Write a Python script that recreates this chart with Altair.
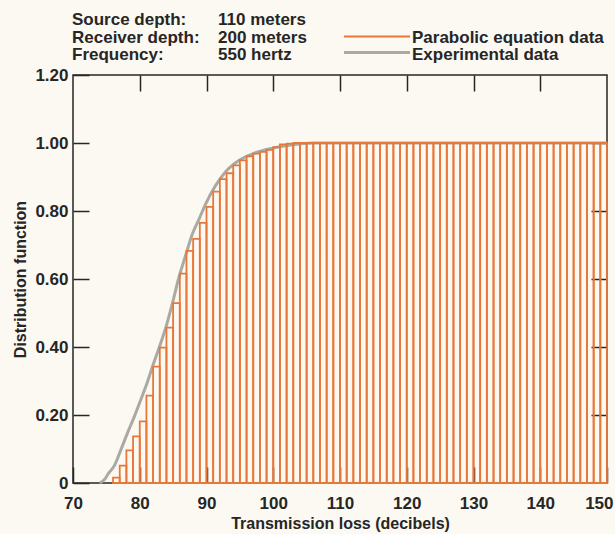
import altair as alt
import pandas as pd

# ---- data ----
bin_start = list(range(76, 150))
pe_values = [0.016, 0.051, 0.096, 0.137, 0.181, 0.257, 0.342, 0.398, 0.457, 0.529,
             0.616, 0.683, 0.718, 0.765, 0.812, 0.857, 0.894, 0.911, 0.934, 0.949,
             0.961, 0.969, 0.974, 0.980, 0.988, 0.996, 0.998] + [1.0] * 47

exp_x = [74.0, 74.8, 75.2, 76.2, 77.2, 78.2, 79.2, 80.2, 81.2, 81.9, 82.9, 83.9,
         84.9, 85.8, 86.8, 87.9, 88.9, 89.9, 91.4, 92.9, 94.9, 97.4, 99.9, 102.9,
         106.0, 150.0]
exp_y = [0.0, 0.012, 0.025, 0.051, 0.099, 0.149, 0.196, 0.247, 0.300, 0.342, 0.398,
         0.457, 0.529, 0.600, 0.665, 0.733, 0.777, 0.822, 0.876, 0.916, 0.949, 0.972,
         0.985, 0.995, 1.0, 1.0]

series_names = ["Parabolic equation data", "Experimental data"]
x_ticks = [70, 80, 90, 100, 110, 120, 130, 140, 150]
x_inner_ticks = [80, 90, 100, 110, 120, 130, 140]
y_ticks = [0, 0.2, 0.4, 0.6, 0.8, 1.0, 1.2]
y_inner_ticks = [0.2, 0.4, 0.6, 0.8, 1.0]
hdr_labels = ["Source depth:", "Receiver depth:", "Frequency:"]
hdr_values = ["110 meters", "200 meters", "550 hertz"]

ORANGE = "#e8783a"
GRAY = "#a9aaa4"
INK = "#262626"
BG = "#fcf9f2"
FONT = "Liberation Sans"
FS = 16
LFS = 17
HFS = 17

bars = pd.DataFrame({
    "start": bin_start,
    "end": [b + 1 for b in bin_start],
    "value": pe_values,
    "series": series_names[0],
})
exp = pd.DataFrame({"tl": exp_x, "df": exp_y, "series": series_names[1]})

xs = alt.Scale(domain=[70, 150], nice=False, zero=False)
ys = alt.Scale(domain=[0, 1.2], nice=False, zero=False)

color = alt.Color(
    "series:N",
    scale=alt.Scale(domain=series_names, range=[ORANGE, GRAY]),
    legend=None,
)

common_axis = dict(offset=-16, tickSize=16, domain=False, grid=False,
                   tickColor=INK, tickWidth=1.5,
                   labelFont=FONT, labelFontSize=LFS, labelFontWeight="bold", labelColor=INK,
                   titleFont=FONT, titleFontSize=FS, titleFontWeight="bold", titleColor=INK)

bottom_axis = alt.Axis(orient="bottom", values=x_ticks, labelPadding=12,
                       title="Transmission loss (decibels)", titlePadding=4,
                       labelAlign={"condition": {"test": "datum.value == 150", "value": "right"}, "value": "center"},
                       labelOffset={"condition": {"test": "datum.value == 150", "value": 6}, "value": 0},
                       **common_axis)
left_axis = alt.Axis(orient="left", values=y_ticks, labelPadding=5,
                     labelExpr="datum.value == 0 ? '0' : format(datum.value, '.2f')",
                     title="Distribution function", titlePadding=6, **common_axis)
top_axis = alt.Axis(orient="top", values=x_inner_ticks, labels=False, title=None, **common_axis)
right_axis = alt.Axis(orient="right", values=y_inner_ticks, labels=False, title=None, **common_axis)

line_layer = alt.Chart(exp).mark_line(strokeWidth=3, interpolate="monotone").encode(
    x=alt.X("tl:Q", scale=xs, axis=top_axis),
    y=alt.Y("df:Q", scale=ys, axis=right_axis),
    color=color,
)

bar_layer = alt.Chart(bars).mark_bar(filled=False, strokeWidth=1.8).encode(
    x=alt.X("start:Q", scale=xs, axis=bottom_axis),
    x2="end:Q",
    y=alt.Y("value:Q", scale=ys, axis=left_axis),
    y2=alt.datum(0),
    color=color,
)

one = pd.DataFrame({"k": [0]})
txt = dict(align="left", baseline="alphabetic", lineHeight=17.5,
           font=FONT, fontSize=HFS, fontWeight="bold", color=INK)
hdr1 = alt.Chart(one).mark_text(text=hdr_labels, **txt).encode(
    x=alt.value(-1), y=alt.value(-50))
hdr2 = alt.Chart(one).mark_text(text=hdr_values, **txt).encode(
    x=alt.value(145), y=alt.value(-50))

# legend (drawn by hand so the long line samples fit the layout)
leg_text = alt.Chart(one).mark_text(text=series_names, **txt).encode(
    x=alt.value(339), y=alt.value(-32.5))
leg_pe = alt.Chart(one).mark_rule(color=ORANGE, strokeWidth=2).encode(
    x=alt.value(271), x2=alt.value(337), y=alt.value(-38.5))
leg_exp = alt.Chart(one).mark_rule(color=GRAY, strokeWidth=3).encode(
    x=alt.value(271), x2=alt.value(337), y=alt.value(-22.5))

chart = alt.layer(line_layer, bar_layer, hdr1, hdr2, leg_text, leg_pe, leg_exp).resolve_axis(
    x="independent", y="independent"
).properties(
    width=534, height=408,
    padding={"left": 73, "top": 75, "right": 8, "bottom": 51},
    autosize=alt.AutoSizeParams(type="none"),
    background=BG,
).configure_view(stroke=INK, strokeWidth=1.5)

chart.save("out.html", embed_options={"renderer": "svg", "actions": False})
